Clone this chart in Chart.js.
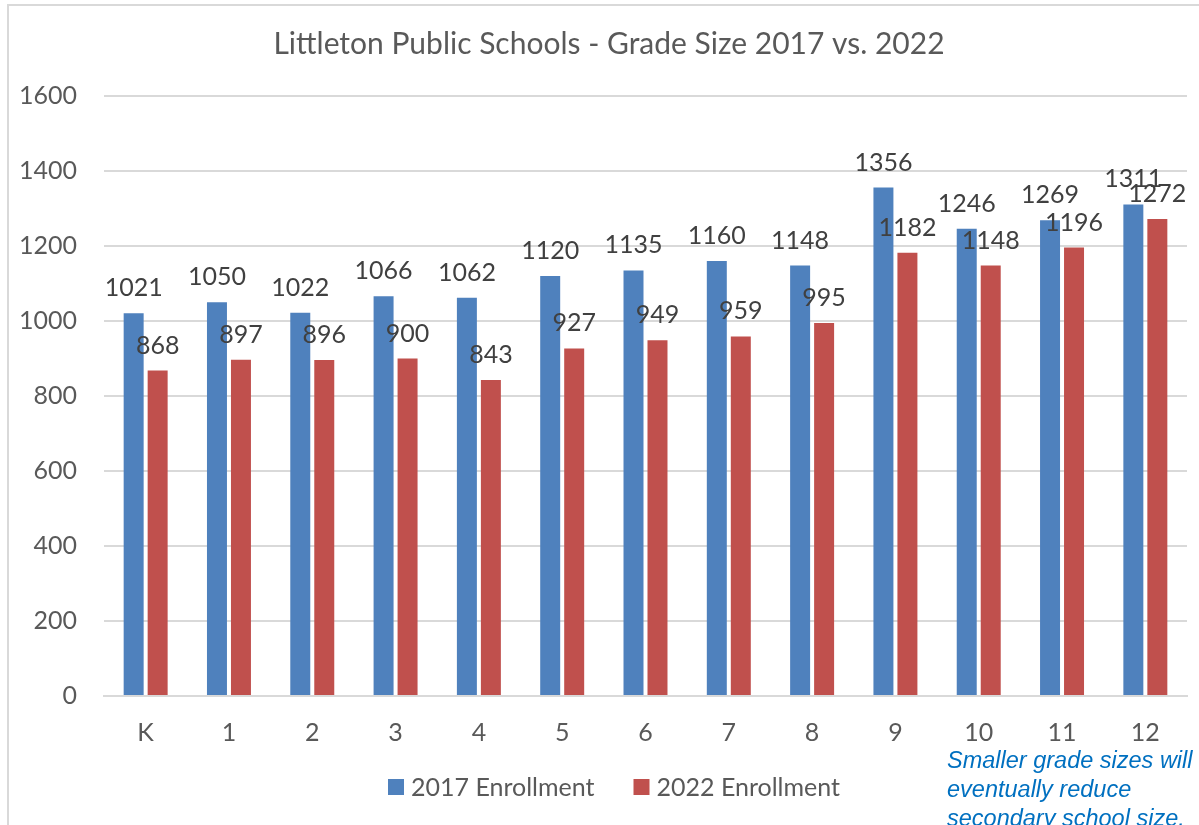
<!DOCTYPE html>
<html>
<head>
<meta charset="utf-8">
<script src="https://cdn.jsdelivr.net/npm/chart.js@4.4.1/dist/chart.umd.min.js"></script>
<style>
  html, body { margin: 0; padding: 0; background: #ffffff; }
  #wrap { position: relative; width: 1199px; height: 825px; }
</style>
</head>
<body>
<div id="wrap"><canvas id="c" width="1199" height="825"></canvas></div>
<script>
const categories = ['K','1','2','3','4','5','6','7','8','9','10','11','12'];
const enrollment2017 = [1021,1050,1022,1066,1062,1120,1135,1160,1148,1356,1246,1269,1311];
const enrollment2022 = [868,897,896,900,843,927,949,959,995,1182,1148,1196,1272];
const seriesNames = ['2017 Enrollment','2022 Enrollment'];
const titleText = 'Littleton Public Schools - Grade Size 2017 vs. 2022';
const noteLines = ['Smaller grade sizes will','eventually reduce','secondary school size.'];

const FONT = 'Lato, "Open Sans", sans-serif';

const framePlugin = {
  id: 'frame',
  beforeDraw(chart) {
    const ctx = chart.ctx;
    ctx.save();
    ctx.fillStyle = '#ffffff';
    ctx.fillRect(0, 0, chart.width, chart.height);
    ctx.strokeStyle = '#d9d9d9';
    ctx.lineWidth = 2;
    ctx.strokeRect(8, 5, chart.width + 50, chart.height + 50);
    ctx.restore();
  }
};

// centre the title over the framed chart box rather than the whole canvas
const titleShiftPlugin = {
  id: 'titleShift',
  afterLayout(chart) {
    if (chart.titleBlock) {
      chart.titleBlock.left = 31;
      chart.titleBlock.width = chart.titleBlock.right - 31;
    }
  }
};

const labelPlugin = {
  id: 'valueLabels',
  afterDatasetsDraw(chart) {
    const ctx = chart.ctx;
    ctx.save();
    ctx.font = '25px ' + FONT;
    ctx.fillStyle = '#404040';
    ctx.textAlign = 'center';
    ctx.textBaseline = 'alphabetic';
    chart.data.datasets.forEach((ds, di) => {
      const meta = chart.getDatasetMeta(di);
      meta.data.forEach((bar, i) => {
        ctx.fillText(String(ds.data[i]), bar.x, bar.y - 17);
      });
    });
    ctx.restore();
  }
};

// Bottom legend drawn from the chart's datasets (Excel-like spacing)
const legendPlugin = {
  id: 'bottomLegend',
  afterDraw(chart) {
    const ctx = chart.ctx;
    ctx.save();
    ctx.font = '25px ' + FONT;
    ctx.textBaseline = 'middle';
    ctx.textAlign = 'left';
    const box = 16, boxGap = 7, itemGap = 39, cy = 787, cx = 614;
    const items = chart.data.datasets.map(ds => ({
      text: ds.label, color: ds.backgroundColor, w: box + boxGap + ctx.measureText(ds.label).width
    }));
    const total = items.reduce((s, it) => s + it.w, 0) + itemGap * (items.length - 1);
    let x = cx - total / 2;
    items.forEach(it => {
      ctx.fillStyle = it.color;
      ctx.fillRect(x, cy - box / 2, box, box);
      ctx.fillStyle = '#595959';
      ctx.fillText(it.text, x + box + boxGap, cy + 1);
      x += it.w + itemGap;
    });
    ctx.restore();
  }
};

const notePlugin = {
  id: 'note',
  afterDraw(chart) {
    const ctx = chart.ctx;
    ctx.save();
    ctx.font = 'italic 23.5px "Liberation Sans", Arial, sans-serif';
    ctx.fillStyle = '#0070C0';
    ctx.textAlign = 'left';
    ctx.textBaseline = 'alphabetic';
    noteLines.forEach((t, i) => ctx.fillText(t, 947, 768 + i * 29));
    ctx.restore();
  }
};

new Chart(document.getElementById('c'), {
  type: 'bar',
  data: {
    labels: categories,
    datasets: [
      { label: seriesNames[0], data: enrollment2017, backgroundColor: '#4F81BD', borderWidth: 0,
        categoryPercentage: 0.576, barPercentage: 0.833 },
      { label: seriesNames[1], data: enrollment2022, backgroundColor: '#C0504D', borderWidth: 0,
        categoryPercentage: 0.576, barPercentage: 0.833 }
    ]
  },
  options: {
    responsive: false,
    animation: false,
    devicePixelRatio: 1,
    layout: { padding: { top: 6, left: 0, right: 12, bottom: 55 } },
    plugins: {
      title: {
        display: true,
        text: titleText,
        color: '#595959',
        font: { family: FONT, size: 30, weight: 'normal' },
        padding: { top: 20, bottom: 34 }
      },
      legend: { display: false },
      tooltip: { enabled: false }
    },
    scales: {
      x: {
        grid: { display: false, drawTicks: false },
        border: { display: true, color: '#d9d9d9', width: 2 },
        ticks: { color: '#595959', font: { family: FONT, size: 25 }, padding: 22 }
      },
      y: {
        min: 0, max: 1600,
        afterFit: (scale) => { scale.width = 104; },
        ticks: { stepSize: 200, color: '#595959', font: { family: FONT, size: 25 }, padding: 27,
                 callback: (v) => String(v) },
        grid: { color: '#d9d9d9', lineWidth: 2, drawTicks: false },
        border: { display: false }
      }
    }
  },
  plugins: [framePlugin, titleShiftPlugin, labelPlugin, legendPlugin, notePlugin]
});
</script>
</body>
</html>
